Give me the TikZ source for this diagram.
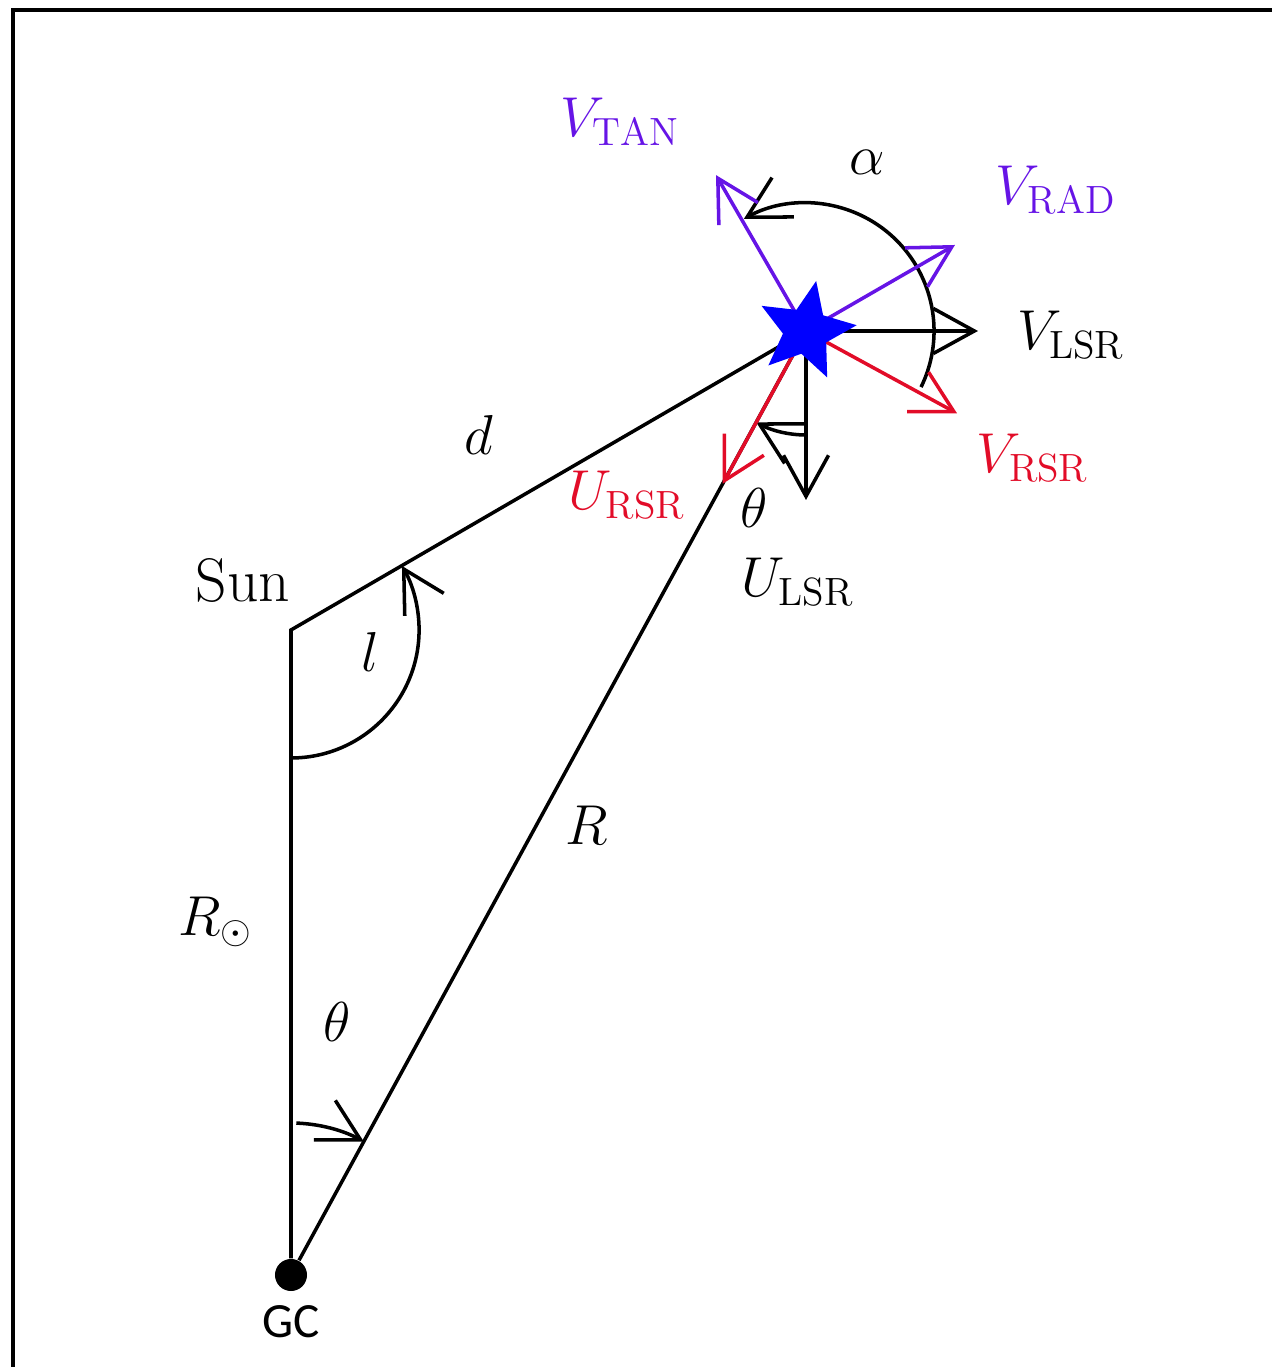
\documentclass[tikz,border=0pt]{standalone}
\usepackage{fix-cm}
\usepackage{fontspec}
\newfontfamily\gcfont{Carlito}
\definecolor{velpurple}{RGB}{102,20,230}
\definecolor{velred}{RGB}{226,12,40}
\definecolor{starblue}{RGB}{0,0,255}
\usetikzlibrary{arrows.meta,shapes.geometric,calc}

\begin{document}
\begin{tikzpicture}[x=0.01cm, y=0.01cm,
    font=\fontsize{16}{19}\selectfont,
    line/.style={line width=1pt, black},
    vec/.style={line width=1pt, -{Straight Barb[length=0.41cm, width=0.45cm]}},
    anglearc/.style={line width=1pt, -{Straight Barb[length=0.41cm, width=0.45cm]}},
    starmark/.style={star, star points=5, star point ratio=2.2, fill=starblue,
                     minimum size=1.02cm, inner sep=0pt, rotate=-11.5},
    gcdot/.style={circle, fill=black, minimum size=0.32cm, inner sep=0pt}
  ]
    \useasboundingbox (0,0) rectangle (1272,1367);
    % frame
    \draw[line width=1pt] (13,0) -- (13,1357) -- (1272,1357);

    % Galactic centre, Sun and star
    \node[gcdot] (gc) at (291,92) {};
    \coordinate (sun) at (291,737);
    \coordinate (star) at (806,1036);
    \draw[line] (gc) -- (sun) -- (star);
    \draw[line] (gc) -- (star);

    % angles
    \draw[anglearc] ($(sun)+(-90:128)$) arc[start angle=-90, end angle=30, radius=1.28cm];
    \draw[anglearc] ($(gc)+(88:152)$) arc[start angle=88, end angle=61.4, radius=1.52cm];
    \draw[anglearc] ($(star)+(-26:128)$) arc[start angle=-26, end angle=119, radius=1.28cm];
    \draw[anglearc] ($(star)+(-90:104)$) arc[start angle=-90, end angle=-118.6, radius=1.04cm];

    % velocity vectors
    \coordinate (vlsr) at ($(star)+(0:172)$);
    \coordinate (ulsr) at ($(star)+(-90:169)$);
    \coordinate (vrad) at ($(star)+(30:172)$);
    \coordinate (vtan) at ($(star)+(120:180)$);
    \coordinate (vrsr) at ($(star)+(-28.6:172)$);
    \coordinate (ursr) at ($(star)+(241.4:174)$);
    \draw[vec] (star) -- (vlsr);
    \draw[vec] (star) -- (ulsr);
    \draw[vec, velpurple] (star) -- (vrad);
    \draw[vec, velpurple] (star) -- (vtan);
    \draw[vec, velred] (star) -- (vrsr);
    \draw[vec, velred] (star) -- (ursr);
    \node[starmark] (starmk) at (star) {};

    % labels
    \node[text=velpurple] (vtanlbl) at (620,1245) {$V_{\mathrm{TAN}}$};
    \node (alphalbl) at (867,1205) {$\alpha$};
    \node[text=velpurple] (vradlbl) at (1056,1177) {$V_{\mathrm{RAD}}$};
    \node (vlsrlbl) at (1071,1032) {$V_{\mathrm{LSR}}$};
    \node[text=velred] (vrsrlbl) at (1033,909) {$V_{\mathrm{RSR}}$};
    \node[text=velred] (ursrlbl) at (627,872) {$U_{\mathrm{RSR}}$};
    \node (thetastar) at (754,859) {$\theta$};
    \node (ulsrlbl) at (798,785) {$U_{\mathrm{LSR}}$};
    \node (dlbl) at (479,932) {$d$};
    \node[font=\fontsize{17.5}{20}\selectfont] (sunlbl) at (243,787) {Sun};
    \node (llbl) at (370,715) {$l$};
    \node (rlbl) at (587,542) {$R$};
    \node (rsunlbl) at (216,445) {$R_\odot$};
    \node (thetagc) at (337,345) {$\theta$};
    \node[font=\gcfont\fontsize{14}{17}\selectfont] (gclbl) at (291,45) {GC};
  \end{tikzpicture}
\end{document}
